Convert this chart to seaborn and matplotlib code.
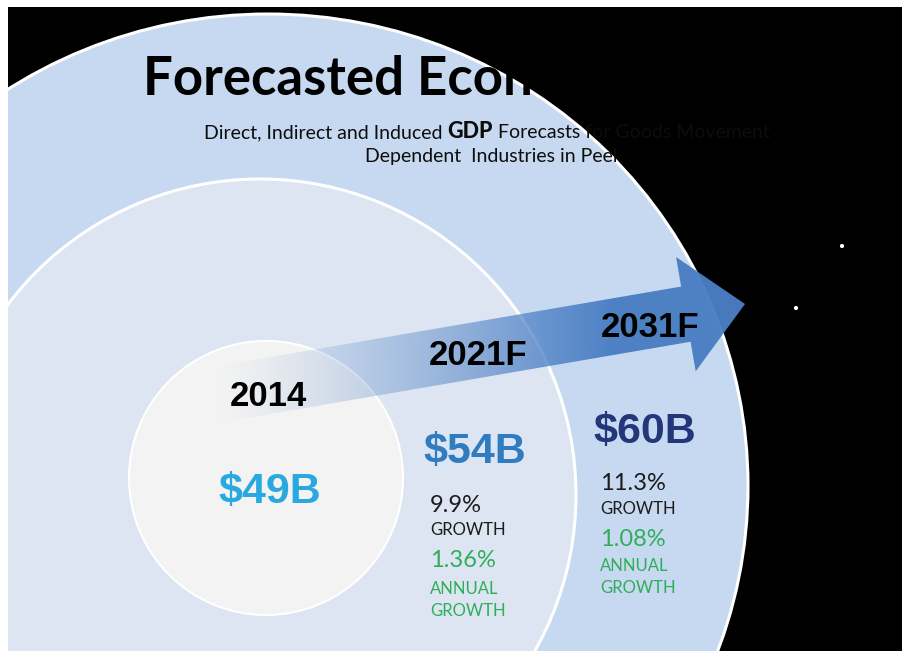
import numpy as np
import matplotlib.pyplot as plt
from matplotlib.patches import Circle, Ellipse, FancyArrow, Rectangle
import seaborn as sns

# Data
years = ["2014", "2021F", "2031F"]
gdp_billions = [49, 54, 60]
growth_pct = [None, 9.9, 11.3]
annual_growth_pct = [None, 1.36, 1.08]
value_colors = ["#2aa9e0", "#2f7cc0", "#23367a"]

title = "Forecasted Economic Impact"
subtitle_parts = [("Direct, Indirect and Induced ", "normal", 14),
                  ("GDP", "black", 15.5),
                  (" Forecasts for Goods Movement", "normal", 14)]
subtitle_line2 = "Dependent  Industries in Peel"

stars_x = [842, 796]
stars_y = [246, 308]

# Layout (pixel coordinates of the 902x651 slide)
outer_center = (268, 486)
outer_axes = (960, 944)
mid_center = (260, 495)
mid_radius = 316
inner_center = (266, 478)
inner_radius = 137

year_pos = [(268, 406), (478, 365), (650, 337)]
value_pos = [(270, 503), (475, 463), (645, 443)]
stat_x = [None, 430, 600]
stat_y = [None, (512, 535, 567, 594, 616), (490, 514, 546, 571, 593)]

sns.set_theme(style="white")

fig = plt.figure(figsize=(9.02, 6.51), dpi=100, facecolor="white")
ax = fig.add_axes([8 / 902, 0, 894 / 902, 644 / 651])
ax.set_xlim(8, 902)
ax.set_ylim(651, 7)
ax.set_xticks([])
ax.set_yticks([])
for s in ax.spines.values():
    s.set_visible(False)
ax.add_patch(Rectangle((0, 0), 1, 1, transform=ax.transAxes, color="black", zorder=0))

# rings
ax.add_patch(Ellipse(outer_center, *outer_axes, facecolor="#c6d9f0",
                     edgecolor="white", lw=2.2, zorder=1))
ax.add_patch(Circle(mid_center, mid_radius, facecolor="#dde5f2",
                    edgecolor="white", lw=2.2, zorder=1))
ax.add_patch(Circle(inner_center, inner_radius, facecolor="#f3f3f3",
                    edgecolor="white", lw=1.5, zorder=2))

# stars
sns.scatterplot(x=stars_x, y=stars_y, color="white", s=9, edgecolor="none", ax=ax, zorder=2)

# arrow with gradient fade at its tail
tail = np.array([215.0, 395.0])
tip = np.array([745.0, 304.0])
arrow = FancyArrow(tail[0], tail[1], tip[0] - tail[0], tip[1] - tail[1], width=56,
                   head_width=116, head_length=60, length_includes_head=True,
                   facecolor="none", edgecolor="none", zorder=3)
ax.add_patch(arrow)
gx = np.linspace(0, 1, 400)
alpha = np.clip(gx / 0.75, 0, 1) ** 1.3
grad = np.zeros((1, 400, 4))
grad[..., 0] = 0x4a / 255
grad[..., 1] = 0x7e / 255
grad[..., 2] = 0xc3 / 255
grad[..., 3] = alpha * 0.97
im = ax.imshow(grad, extent=(tail[0], tip[0], 430, 250), aspect="auto",
               interpolation="bilinear", zorder=3)
im.set_clip_path(arrow)
ax.set_xlim(8, 902)
ax.set_ylim(651, 7)

# title and subtitle
ax.text(143, 95, title, fontsize=38, fontweight="bold", family="Lato",
        color="black", va="baseline", ha="left", zorder=5)

fig.canvas.draw()
renderer = fig.canvas.get_renderer()
x = 204
for txt, weight, size in subtitle_parts:
    t = ax.text(x, 138, txt, fontsize=size, fontweight=weight, family="Lato",
                color="#0d0d0d", va="baseline", ha="left", zorder=5)
    bb = t.get_window_extent(renderer).transformed(ax.transData.inverted())
    x = bb.x1
ax.text(491, 162, subtitle_line2, fontsize=14, family="Lato", color="#0d0d0d",
        va="baseline", ha="center", zorder=5)

# years and values
for i, yr in enumerate(years):
    ax.text(*year_pos[i], yr, fontsize=25, fontweight="bold", family="Liberation Sans",
            color="black", va="baseline", ha="center", zorder=5)
    ax.text(*value_pos[i], f"${gdp_billions[i]}B", fontsize=31, fontweight="bold",
            family="Liberation Sans", color=value_colors[i], va="baseline",
            ha="center", zorder=5)
    if growth_pct[i] is None:
        continue
    ys = stat_y[i]
    xs = stat_x[i]
    ax.text(xs, ys[0], f"{growth_pct[i]}%", fontsize=17, family="Lato",
            color="#1c1c1c", va="baseline", zorder=5)
    ax.text(xs, ys[1], "GROWTH", fontsize=12, family="Lato", color="#1c1c1c",
            va="baseline", zorder=5)
    ax.text(xs, ys[2], f"{annual_growth_pct[i]:.2f}%", fontsize=17, family="Lato",
            color="#2fae5a", va="baseline", zorder=5)
    ax.text(xs, ys[3], "ANNUAL", fontsize=12, family="Lato", color="#2fae5a",
            va="baseline", zorder=5)
    ax.text(xs, ys[4], "GROWTH", fontsize=12, family="Lato", color="#2fae5a",
            va="baseline", zorder=5)

fig.savefig("out.png", dpi=100, facecolor="white")
